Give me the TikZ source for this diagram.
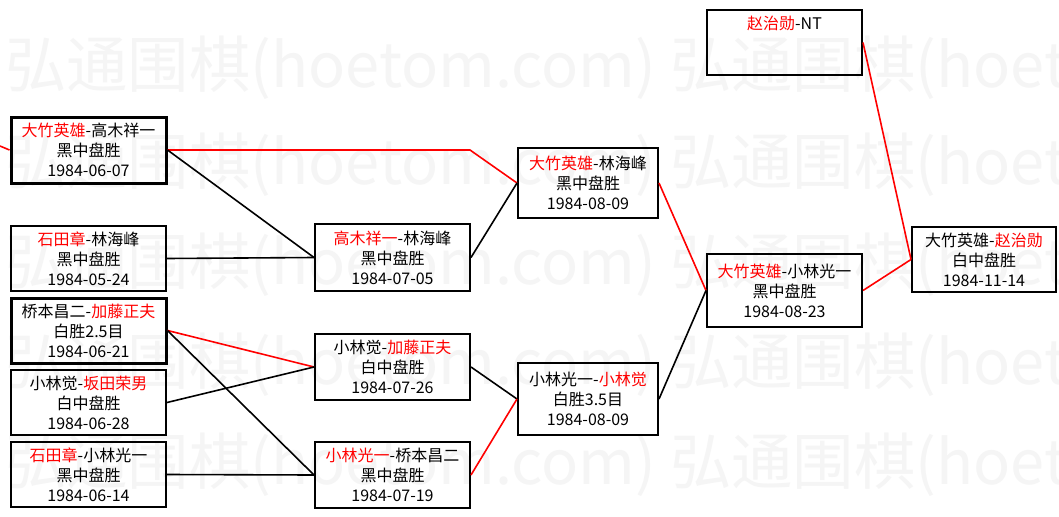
\documentclass[tikz,border=0pt]{standalone}
\usepackage{fontspec}
\setmainfont{Noto Sans CJK SC}
\newcommand{\winner}[1]{\textcolor{red}{#1}}
\begin{document}
\begin{tikzpicture}[x=0.75pt,y=-0.75pt,
  box/.style={draw, line width=1.5pt, align=center, inner sep=0pt,
    font=\fontsize{12}{15}\selectfont},
  heavy/.style={line width=2.25pt},
  col/.style={minimum width=116.25pt},
  narrow/.style={minimum width=105pt},
  blk/.style={draw=black, line width=1.2pt},
  redline/.style={draw=red, line width=1.2pt},
  wm/.style={text=black!4, font=\fontsize{46}{50}\selectfont, inner sep=0pt, anchor=west}]
\useasboundingbox (0,0) rectangle (1059,517);
\fill[white] (0,0) rectangle (1059,517);
\begin{scope}
\clip (0,0) rectangle (1059,517);
\foreach \yy in {68,165,265,365,465} {
  \node[wm] (wma\yy) at (5,\yy) {弘通围棋(hoetom.com)};
  \node[wm] (wmb\yy) at (670,\yy) {弘通围棋(hoetom.com)};
}
\end{scope}
% round 1
\node[box, heavy, col, minimum height=49.5pt] (A) at (88.5,150) {\winner{大竹英雄}-高木祥一\\黑中盘胜\\1984-06-07};
\node[box, col, minimum height=48.75pt] (B) at (88.5,258.5) {\winner{石田章}-林海峰\\黑中盘胜\\1984-05-24};
\node[box, heavy, col, minimum height=48.75pt] (C) at (88.5,330.5) {桥本昌二-\winner{加藤正夫}\\白胜2.5目\\1984-06-21};
\node[box, col, minimum height=48.75pt] (D) at (88.5,402.5) {小林觉-\winner{坂田荣男}\\白中盘胜\\1984-06-28};
\node[box, col, minimum height=48.75pt] (E) at (88.5,474.5) {\winner{石田章}-小林光一\\黑中盘胜\\1984-06-14};
% round 2
\node[box, col, minimum height=50.25pt] (F) at (392.5,257.5) {\winner{高木祥一}-林海峰\\黑中盘胜\\1984-07-05};
\node[box, col, minimum height=49.5pt] (G) at (392.5,367) {小林觉-\winner{加藤正夫}\\白中盘胜\\1984-07-26};
\node[box, col, minimum height=49.5pt] (H) at (392.5,475) {\winner{小林光一}-桥本昌二\\黑中盘胜\\1984-07-19};
% round 3
\node[box, narrow, minimum height=52.5pt] (I) at (588,183) {\winner{大竹英雄}-林海峰\\黑中盘胜\\1984-08-09};
\node[box, narrow, minimum height=54pt] (J) at (588,399) {小林光一-\winner{小林觉}\\白胜3.5目\\1984-08-09};
% round 4
\node[box, col, minimum height=48.75pt] (K) at (784.5,42.5) {\winner{赵治勋}-NT\\~\\~};
\node[box, col, minimum height=54.75pt] (L) at (784.5,290.5) {\winner{大竹英雄}-小林光一\\黑中盘胜\\1984-08-23};
% final
\node[box, minimum width=108pt, minimum height=48.75pt] (M) at (984,259.5) {大竹英雄-\winner{赵治勋}\\白中盘胜\\1984-11-14};
% connectors
\coordinate (in) at (0,146);
\coordinate (bend) at (470,150);
\draw[redline] (in) -- (A.west);
\draw[redline] (A.east) -- (bend) -- (I.west);
\draw[blk] (A.east) -- (F.west);
\draw[blk] (B.east) -- (F.west);
\draw[redline] (C.east) -- (G.west);
\draw[blk] (C.east) -- (H.west);
\draw[blk] (D.east) -- (G.west);
\draw[blk] (E.east) -- (H.west);
\draw[blk] (F.east) -- (I.west);
\draw[blk] (G.east) -- (J.west);
\draw[redline] (H.east) -- (J.west);
\draw[redline] (I.east) -- (L.west);
\draw[blk] (J.east) -- (L.west);
\draw[redline] (K.east) -- (M.west);
\draw[redline] (L.east) -- (M.west);
\end{tikzpicture}
\end{document}
